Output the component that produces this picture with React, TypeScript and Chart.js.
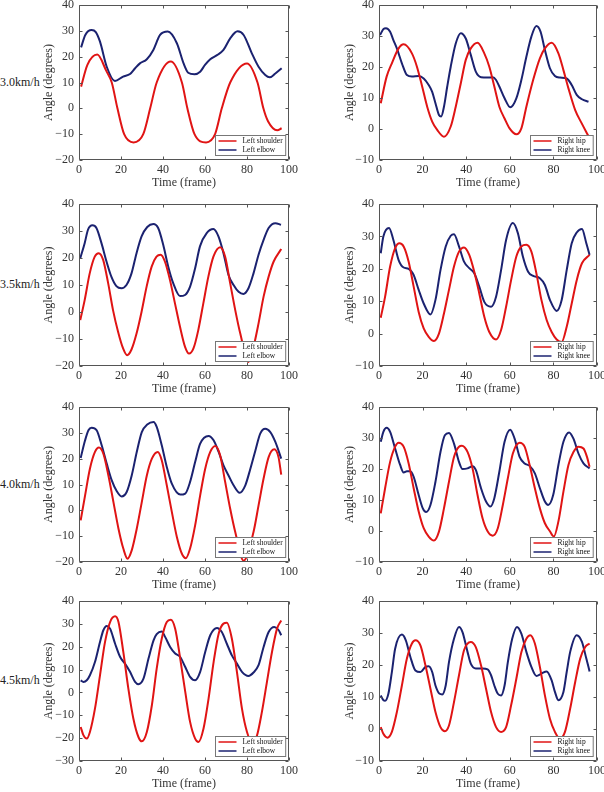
import React, { useEffect, useRef } from "react";
import { Chart, registerables } from "chart.js";

Chart.register(...registerables);

const RED = "#e01414";
const NAVY = "#1b2270";
const FONT = "'Liberation Serif', 'Times New Roman', serif";

// ---------- data (frame, angle in degrees) ----------
// 3.0 km/h, left side
const shoulder30X = [1, 4, 8.7, 13, 15.6, 18.3, 21.5, 26, 30.6, 33.9, 37, 43.7, 49, 51.6, 55, 60.5, 64.8, 68, 72, 80, 85, 87.8, 90, 94.4, 96.5];
const shoulder30Y = [8.4, 16.8, 20.8, 14.5, 10, 0, -10, -13.2, -10, 0, 10, 18.1, 10, 0, -10, -13.2, -10, 0, 10, 17.4, 10, 0, -5, -8.5, -7.7];
const elbow30X = [1, 3, 6, 8, 10, 13.2, 17.1, 21, 24.3, 26.7, 29, 32.3, 35.4, 38.6, 42.3, 46.6, 49.8, 52, 55, 57.7, 60, 62.5, 65.7, 68.8, 72, 75.5, 78.4, 82.3, 85.5, 88.7, 90.8, 93.5, 96.5];
const elbow30Y = [23.6, 28.4, 30.3, 29.5, 25.8, 16.1, 10.6, 12.3, 13.3, 15.5, 17.4, 19, 22.6, 28.4, 29.7, 25.2, 17.4, 13.8, 13.2, 14.2, 16.8, 19, 20.6, 22.6, 27.1, 29.8, 28.4, 21.3, 16.1, 12.9, 12, 13.5, 15.5];
// 3.0 km/h, right side
const hip30X = [0.8, 3.5, 5.9, 9, 11.3, 15.1, 17.4, 19.8, 22.1, 24.4, 26.7, 29.8, 32.9, 35.2, 37.5, 39.8, 42.1, 45.2, 48.3, 50.6, 52.9, 55.2, 57.6, 59.9, 63, 65.3, 67.6, 70.7, 73.8, 76.1, 79.2, 82.3, 84.6, 86.9, 90, 93, 96];
const hip30Y = [8.3, 16.9, 21.2, 26, 27.3, 24.4, 20.1, 13.7, 7.2, 2.4, -0.3, -2.5, 0.8, 7.2, 14.7, 22.3, 26, 27.8, 24.4, 20.1, 13.7, 7.2, 3.4, 0.2, -1.7, 0.2, 7.2, 15.8, 22.8, 26, 27.8, 24.4, 19, 13.1, 6.1, 1.8, -2.2];
const knee30X = [0.5, 2, 3.2, 5.1, 6.6, 8.2, 10.5, 12.8, 15.1, 18.2, 20.5, 22.8, 24.4, 25.9, 27.5, 28.5, 29.8, 31.3, 32.9, 35.2, 37.5, 39.8, 42.1, 44.4, 46.8, 49.8, 52.2, 53.7, 55.2, 57.6, 60.2, 63, 65.3, 67.6, 69.9, 72.2, 74.1, 76.1, 78.4, 80.7, 83, 86.1, 88.4, 90.7, 93.1, 96.1];
const knee30Y = [30.3, 32.2, 32.5, 31.4, 28.7, 26, 21.2, 17.4, 16.9, 17.1, 16.3, 14.2, 12, 8.3, 4.5, 4, 7.2, 13.7, 20.1, 27.6, 30.9, 29.2, 23.9, 18.5, 16.7, 16.6, 16.7, 15.8, 13.7, 9.9, 7, 9.9, 15.8, 23.3, 29.8, 33.2, 31.4, 25.5, 19.6, 17.1, 16.6, 16.3, 14.2, 11, 9.6, 8.8];

// 3.5 km/h, left side
const shoulder35X = [0.6, 2.7, 5.1, 7.5, 9.4, 11.5, 13.9, 16.2, 18.6, 21, 22.9, 25, 27.4, 29.8, 32.2, 34.6, 36.9, 38.9, 40.9, 43.3, 45.7, 48.1, 50.5, 52.4, 54.5, 56.8, 59.2, 61.6, 64, 67.2, 69.6, 72, 74.4, 76.8, 80.7, 83.1, 85.5, 87.9, 90.3, 92.7, 96.3];
const shoulder35Y = [-3, 4.4, 14.3, 20.5, 21.8, 19.3, 10.6, 0.7, -7.3, -13.5, -16, -13.9, -8, 0.1, 9.4, 16.8, 20.5, 21.2, 18.7, 11.9, 3.2, -5.5, -12.9, -15.4, -13.5, -6.7, 3.2, 13.1, 20.5, 24, 20.5, 10.6, 0.7, -8, -18.5, -12.9, -4.2, 5.7, 13.1, 18.7, 23.3];
const elbow35X = [0.6, 2.7, 4.3, 6.4, 8.3, 10.7, 13.1, 15.4, 17.8, 20.2, 22.6, 25, 27.4, 29.8, 32.5, 35.4, 37.7, 40.1, 42.5, 44.9, 48.1, 50.5, 52.9, 55.3, 57.6, 60.8, 64, 66.4, 68.8, 71.2, 73.6, 76, 78.3, 80.7, 83.1, 85.5, 87.9, 90.3, 93.5, 96.2];
const elbow35Y = [19.9, 25.5, 30.5, 32.1, 31.1, 25.5, 18.7, 13.1, 9.6, 8.8, 10, 14.3, 21.8, 28, 31.5, 32.6, 31.1, 24.9, 16.8, 10.6, 5.9, 6.3, 9.4, 16.2, 24.3, 29.2, 30.7, 28, 21.8, 13.7, 10, 7.5, 6.7, 8.8, 14.3, 21.2, 26.7, 31.1, 32.9, 32.3];
// 3.5 km/h, right side
const hip35X = [0.8, 2.8, 5.1, 7.4, 9.4, 11.3, 13.6, 15.9, 18.2, 20.5, 22.8, 25.2, 27.5, 29.8, 32.1, 34.4, 36.7, 39, 41.4, 43.7, 46, 48.3, 50.6, 53.7, 56, 58.3, 60.6, 63, 65.3, 67.6, 69.9, 72.2, 74.5, 76.9, 79.2, 81.5, 83.8, 86.1, 88.4, 90.7, 93.1, 96.6];
const hip35Y = [4.9, 11.4, 20.7, 26.4, 27.9, 26.9, 22.2, 14.5, 6.7, 1.6, -1, -2.3, 0, 6.2, 13.5, 20.7, 25.3, 26.6, 24.3, 19.1, 12.4, 5.2, 0.5, -1.8, 1.1, 8.3, 16.5, 23.8, 26.9, 27.4, 25.3, 18.6, 10.4, 4.2, 0.5, -1.8, -2.6, 2.1, 9.3, 16.5, 21.7, 24.3];
const knee35X = [0.8, 2, 4.6, 6.6, 9, 11.3, 13.6, 15.9, 18.2, 20.5, 23.6, 25.9, 28.2, 30.6, 32.9, 34.4, 36.7, 39, 41.4, 43.7, 46, 48.3, 51.4, 53.7, 56, 58.3, 61.4, 63.7, 66, 68.4, 70.7, 73.8, 76.1, 78.4, 81.5, 83.8, 86.1, 88.4, 90.7, 93.1, 95.1, 96.6];
const knee35Y = [24.8, 30, 32.6, 28.9, 22.7, 20.4, 20, 18.1, 13.5, 9.3, 5.9, 10.4, 19.6, 26.9, 30.2, 30.7, 26.9, 22.2, 20.2, 18.6, 14.5, 9.8, 8.3, 11.4, 19.6, 28.9, 34.1, 31, 23.8, 19.1, 17.8, 17.1, 15, 10.4, 7, 10.4, 19.6, 27.9, 31.2, 32.3, 27.9, 24.3];

// 4.0 km/h, left side
const shoulder40X = [0.8, 2.9, 5.2, 7.6, 9.5, 11.6, 14, 16.4, 18.8, 21.1, 23.1, 25.1, 27.5, 29.9, 32.3, 34.7, 37.5, 39.4, 41.8, 44.2, 46.6, 49, 50.9, 52.9, 55.3, 57.7, 60.1, 62.5, 64.9, 67.2, 69.6, 72, 74.4, 78.4, 83.1, 85.5, 87.9, 90.3, 93, 95, 96.3];
const shoulder40Y = [-3.9, 5.8, 16.1, 22.6, 24.3, 21.9, 13.5, 3.2, -7.1, -14.8, -18.7, -15.5, -7.1, 3.2, 13.5, 20, 22.6, 19.4, 9.7, -0.6, -10.3, -16.8, -18.5, -14.8, -5.8, 5.8, 16.1, 22.6, 24.9, 21.3, 11, 0.6, -8.4, -19.5, -8.4, 1.9, 12.3, 20.6, 23.6, 20.6, 13.8];
const elbow40X = [0.8, 2.9, 4.5, 6, 8.4, 10.8, 13.2, 15.6, 18, 20.3, 22.7, 25.1, 27.5, 29.9, 32.5, 35.5, 37, 39.4, 41.8, 44.2, 48.2, 50.6, 52.9, 55.3, 57.7, 61.7, 64.1, 66.5, 68.8, 71.2, 73.6, 76.5, 79.2, 81.6, 84, 86.3, 88.7, 91.1, 93.5, 96.3];
const elbow40Y = [20.3, 27.1, 31, 32, 31, 25.2, 18.1, 11.6, 7.4, 5.4, 7.1, 13.5, 22.6, 30.3, 33.2, 34.2, 32.3, 25.2, 16.8, 10.3, 6.1, 6.5, 11, 18.7, 25.8, 28.8, 27.1, 22.6, 17.4, 13.5, 9.7, 6.8, 9.7, 16.1, 23.2, 29.7, 31.6, 30.3, 26.5, 20];
// 4.0 km/h, right side
const hip40X = [0.8, 2.8, 5.1, 7.4, 9, 11.3, 13.6, 15.9, 18.2, 20.5, 22.8, 25.2, 27.5, 29.8, 32.1, 34.4, 36.7, 38, 40.6, 42.9, 45.2, 47.5, 49.8, 52.2, 54.5, 56.8, 59.1, 61.4, 64.5, 66.8, 69.1, 71.5, 73.8, 76.1, 78.4, 80.2, 82.3, 84.6, 86.9, 89.2, 91.5, 93.8, 95.4, 96.6];
const hip40Y = [5.7, 13.8, 22.3, 27.2, 28.5, 27.2, 21.8, 13.8, 6.3, 0.9, -1.8, -3.1, -0.2, 7.3, 15.9, 23.9, 27.2, 27.5, 25.5, 20.2, 11.6, 4.1, -0.1, -1.5, 0.9, 8.4, 17, 25, 28.5, 27.2, 21.3, 13.8, 7.3, 2.5, -0.1, -1.8, 3.1, 12.7, 21.3, 25.5, 27.2, 26.6, 23.9, 20.7];
const knee40X = [0.8, 2, 3.5, 5.1, 7.4, 9.7, 11.3, 12.8, 14.4, 15.9, 18.2, 20.1, 21.6, 23.6, 25.9, 28.2, 30.2, 32.1, 34.4, 36.7, 38.3, 40.6, 42.9, 44.4, 46.8, 49.1, 51.1, 52.9, 55.2, 57.6, 60.2, 62.2, 64.5, 66.8, 69.1, 71.5, 73.8, 76.1, 77.6, 79.9, 82.3, 84.6, 87.2, 89.2, 91.5, 93.8, 96.6];
const knee40Y = [28.8, 32, 33.3, 32, 26.6, 21.3, 18.9, 19.3, 19.3, 17.5, 11.6, 7.3, 6.1, 8.4, 15.9, 25.5, 30.9, 31.6, 28.2, 22.3, 20, 20.2, 20.9, 19.7, 13.8, 9.5, 7.9, 10.6, 19.1, 28.8, 32.7, 29.8, 23.9, 21.8, 21, 18.6, 13.8, 9.5, 8.4, 11.6, 21.3, 28.8, 31.8, 29.8, 25, 21.8, 20.2];

// 4.5 km/h, left side
const shoulder45X = [0.8, 2.1, 3.7, 5.2, 7.6, 10, 12.4, 14.8, 17.2, 18.8, 21.1, 23.5, 25.9, 28.3, 29.9, 32.3, 34.7, 37, 39.4, 41.8, 43.7, 45.8, 48.2, 50.6, 52.9, 55.3, 56.9, 59.3, 61.7, 64.1, 66.5, 68.8, 70.4, 72.8, 75.2, 77.6, 80, 82.4, 84.7, 87.1, 89.5, 91.9, 94.3, 96.3];
const shoulder45Y = [-15.1, -18.7, -20.2, -17.3, -7.1, 7.5, 22.1, 30.8, 33.3, 30.8, 17.7, 1.7, -11.5, -19.5, -21.4, -17.3, -5.6, 10.4, 23.5, 30.8, 31.8, 27.9, 14.8, 0.2, -12.9, -20.2, -21.7, -15.8, -2.7, 13.3, 25.7, 30.1, 30.5, 23.5, 9, -7.1, -17.3, -22, -19, -8.5, 4.6, 17.7, 27.9, 31.5];
const elbow45X = [0.8, 2.1, 3.7, 5.2, 7.6, 10, 11.6, 13.2, 14.8, 17.2, 19.6, 21.9, 24.3, 26.7, 28.3, 30.7, 33.1, 35.5, 37, 39.4, 41, 43.4, 45.8, 48.2, 50.6, 52.9, 55.3, 57.7, 60.1, 62.5, 65.7, 68, 70.4, 72.8, 75.2, 77.6, 80.7, 83.1, 85.5, 87.9, 90.3, 93, 95.1, 96.3];
const elbow45Y = [5.3, 4.6, 5.3, 7.5, 13.3, 22.1, 27.2, 29.1, 27.9, 21.3, 15.5, 12.6, 9, 4.6, 3.6, 6, 14.8, 22.8, 25.5, 26.7, 24.3, 19.9, 17, 15.5, 11.1, 6.8, 5.3, 9, 17.7, 25, 28.2, 26.4, 21.3, 16.2, 12.6, 9, 7.2, 8.7, 11.9, 19.9, 26.4, 28.6, 27.2, 25];
// 4.5 km/h, right side
const hip45X = [0.8, 2, 3.9, 5.9, 8.2, 10.5, 12.8, 15.1, 16.7, 19, 21.3, 23.6, 25.9, 28.2, 30.2, 32.1, 34.4, 36.7, 39, 42.1, 44.4, 46.8, 49.1, 51.4, 53.7, 56, 58.3, 60.6, 63, 65.3, 67.6, 69.4, 71.5, 73.8, 76.1, 78.4, 80.7, 83, 85.3, 87.7, 90, 92.3, 94.6, 96.6];
const hip45Y = [0.6, -1.5, -2.7, -0.9, 5.3, 13.6, 22, 26.7, 27.7, 26.1, 19.9, 12.6, 5.3, 0.6, -0.7, 1.1, 8.4, 16.8, 24.6, 27.2, 25.6, 19.9, 12.6, 5.3, 0.6, -0.9, 0.6, 7.4, 15.7, 24, 28.2, 29.3, 26.7, 19.4, 10.5, 3.2, -0.9, -3, -0.9, 6.4, 14.7, 22, 25.6, 26.7];
const knee45X = [0.8, 2, 2.8, 4.3, 5.9, 7.4, 10.5, 12.3, 14.4, 16.7, 19, 21.3, 22.8, 24.4, 25.9, 27.8, 29, 30.6, 32.1, 34.4, 36.7, 38.3, 40.6, 42.1, 44.4, 47.5, 49.8, 51.4, 52.9, 54.5, 56, 57.6, 59.1, 61.1, 63.3, 65.3, 67.6, 69.9, 72.2, 74.5, 76.9, 79.2, 80.7, 82.3, 84.6, 86.1, 87.7, 90.7, 93.1, 95.1, 96.6];
const knee45Y = [10.5, 9, 8.8, 11, 17.8, 25.1, 29.5, 27.7, 22.5, 18.3, 17.8, 19.4, 19.6, 17.8, 13.6, 11, 10.8, 13.6, 20.9, 28.2, 31.9, 30.3, 24.1, 20.4, 18.9, 18.9, 18.6, 16.8, 13.6, 11, 10.5, 13.6, 20.9, 28.2, 31.9, 29.8, 24.1, 19.4, 16.6, 17.3, 18, 15.2, 11.6, 9, 11.6, 17.8, 24.1, 29.3, 27.2, 22, 18];

const speedLabels = ["3.0km/h", "3.5km/h", "4.0km/h", "4.5km/h"];
const leftLabels = ["Left shoulder", "Left elbow"];
const rightLabels = ["Right hip", "Right knee"];
const leftYMin = [-20, -20, -20, -30];
const rightYMin = [-10, -10, -10, -10];
const yMax = 40;
const xTicks = [0, 20, 40, 60, 80, 100];

// ---------- layout ----------
const rowPlot = [
  { top: 5, bottom: 160 },
  { top: 204, bottom: 366 },
  { top: 407, bottom: 562 },
  { top: 601, bottom: 761 },
];
const colPlot = [
  { left: 79, right: 289, canvasLeft: 30, canvasRight: 300, titlePad: 12 },
  { left: 379, right: 597, canvasLeft: 330, canvasRight: 604, titlePad: 13 },
];
const rowLabelY = [82, 284, 484, 680];

const pts = (xs: number[], ys: number[]) => xs.map((x, i) => ({ x, y: ys[i] }));

const leftSeries = [
  [pts(shoulder30X, shoulder30Y), pts(elbow30X, elbow30Y)],
  [pts(shoulder35X, shoulder35Y), pts(elbow35X, elbow35Y)],
  [pts(shoulder40X, shoulder40Y), pts(elbow40X, elbow40Y)],
  [pts(shoulder45X, shoulder45Y), pts(elbow45X, elbow45Y)],
];
const rightSeries = [
  [pts(hip30X, hip30Y), pts(knee30X, knee30Y)],
  [pts(hip35X, hip35Y), pts(knee35X, knee35Y)],
  [pts(hip40X, hip40Y), pts(knee40X, knee40Y)],
  [pts(hip45X, hip45Y), pts(knee45X, knee45Y)],
];

const fmt = (v: number) => (v < 0 ? "\u2212" + Math.abs(v) : String(v));

const frameLegendPlugin = {
  id: "frameLegend",
  afterDatasetsDraw(chart: any) {
    const { ctx, chartArea: a, scales } = chart;
    ctx.save();
    // frame
    ctx.strokeStyle = "#555";
    ctx.lineWidth = 1;
    const L = Math.round(a.left) + 0.5;
    const R = Math.round(a.right) - 0.5;
    const T = Math.round(a.top) + 0.5;
    const B = Math.round(a.bottom) - 0.5;
    ctx.beginPath();
    ctx.rect(L, T, R - L, B - T);
    ctx.stroke();
    // inward ticks
    const tl = 3;
    ctx.beginPath();
    scales.y.ticks.forEach((tk: any) => {
      const p = Math.round(scales.y.getPixelForValue(tk.value)) + 0.5;
      ctx.moveTo(L, p);
      ctx.lineTo(L + tl, p);
      ctx.moveTo(R, p);
      ctx.lineTo(R - tl, p);
    });
    scales.x.ticks.forEach((tk: any) => {
      const p = Math.round(scales.x.getPixelForValue(tk.value)) + 0.5;
      ctx.moveTo(p, B);
      ctx.lineTo(p, B - tl);
      ctx.moveTo(p, T);
      ctx.lineTo(p, T + tl);
    });
    ctx.stroke();

    // legend box (lower right, inside plot)
    const ds = chart.data.datasets;
    ctx.font = "7.5px " + FONT;
    let maxW = 0;
    ds.forEach((d: any) => {
      maxW = Math.max(maxW, ctx.measureText(d.label).width);
    });
    const lineLen = 18;
    const w = 3 + lineLen + 6 + maxW + 3;
    const h = 20;
    const bx = Math.round(a.right - 4 - w) + 0.5;
    const by = Math.round(a.bottom - 5 - h) + 0.5;
    ctx.fillStyle = "#fff";
    ctx.fillRect(bx, by, w, h);
    ctx.strokeStyle = "#777";
    ctx.strokeRect(bx, by, w, h);
    ds.forEach((d: any, i: number) => {
      const yy = by + 5.5 + i * 9;
      ctx.strokeStyle = d.borderColor;
      ctx.lineWidth = 1.5;
      ctx.beginPath();
      ctx.moveTo(bx + 3, yy);
      ctx.lineTo(bx + 3 + lineLen, yy);
      ctx.stroke();
      ctx.fillStyle = "#111";
      ctx.textBaseline = "middle";
      ctx.textAlign = "left";
      ctx.fillText(d.label, bx + 3 + lineLen + 6, yy + 0.5);
    });
    ctx.restore();
  },
};

type PanelProps = {
  row: number;
  col: number;
  series: { x: number; y: number }[][];
  labels: string[];
  yMin: number;
};

function Panel({ row, col, series, labels, yMin }: PanelProps) {
  const ref = useRef<HTMLCanvasElement | null>(null);
  const rp = rowPlot[row];
  const cp = colPlot[col];
  const top = rp.top - 5;
  const height = rp.bottom + 30 - top;
  const width = cp.canvasRight - cp.canvasLeft;
  const rightPad = cp.canvasRight - cp.right;
  const yAxisW = cp.left - cp.canvasLeft;

  useEffect(() => {
    if (!ref.current) return;
    const tickFont = { family: FONT, size: 12 };
    const chart = new Chart(ref.current, {
      type: "line",
      data: {
        datasets: [
          {
            label: labels[0],
            data: series[0],
            borderColor: RED,
            backgroundColor: RED,
            borderWidth: 2,
            pointRadius: 0,
            cubicInterpolationMode: "monotone",
            fill: false,
          },
          {
            label: labels[1],
            data: series[1],
            borderColor: NAVY,
            backgroundColor: NAVY,
            borderWidth: 2,
            pointRadius: 0,
            cubicInterpolationMode: "monotone",
            fill: false,
          },
        ],
      },
      options: {
        animation: false,
        responsive: false,
        devicePixelRatio: 1,
        events: [],
        layout: { padding: { top: 5, right: rightPad, bottom: 0, left: 0 } },
        plugins: {
          legend: { display: false },
          tooltip: { enabled: false },
        },
        scales: {
          x: {
            type: "linear",
            min: 0,
            max: 100,
            afterBuildTicks: (s: any) => {
              s.ticks = xTicks.map((v) => ({ value: v }));
            },
            ticks: {
              color: "#333",
              font: tickFont,
              padding: 3,
              maxRotation: 0,
              autoSkip: false,
              callback: (v: any) => fmt(Number(v)),
            },
            grid: { display: false, drawTicks: false },
            border: { display: false },
            title: {
              display: true,
              text: "Time (frame)",
              color: "#333",
              font: tickFont,
              padding: { top: 0, bottom: 0 },
            },
            afterFit: (s: any) => {
              s.height = 30;
              s.paddingLeft = 0;
              s.paddingRight = 0;
            },
          },
          y: {
            type: "linear",
            min: yMin,
            max: yMax,
            ticks: {
              stepSize: 10,
              color: "#333",
              font: tickFont,
              padding: 5,
              autoSkip: false,
              callback: (v: any) => fmt(Number(v)),
            },
            grid: { display: false, drawTicks: false },
            border: { display: false },
            title: {
              display: true,
              text: "Angle (degrees)",
              color: "#333",
              font: tickFont,
              padding: { top: cp.titlePad, bottom: 0 },
            },
            afterFit: (s: any) => {
              s.width = yAxisW;
              s.paddingTop = 0;
              s.paddingBottom = 0;
            },
          },
        },
      },
      plugins: [frameLegendPlugin],
    } as any);
    return () => chart.destroy();
  }, []);

  return (
    <canvas
      ref={ref}
      width={width}
      height={height}
      style={{
        position: "absolute",
        left: cp.canvasLeft,
        top,
        width,
        height,
      }}
    />
  );
}

export default function App() {
  return (
    <div
      style={{
        position: "fixed",
        left: 0,
        top: 0,
        width: 604,
        height: 792,
        background: "#fff",
        overflow: "hidden",
      }}
    >
      {speedLabels.map((s, r) => (
        <div
          key={"lbl" + r}
          style={{
            position: "absolute",
            left: 0,
            top: rowLabelY[r] - 7,
            height: 14,
            lineHeight: "14px",
            fontFamily: FONT,
            fontSize: 12,
            color: "#222",
            whiteSpace: "nowrap",
          }}
        >
          {s}
        </div>
      ))}
      {speedLabels.map((_, r) => (
        <Panel key={"l" + r} row={r} col={0} series={leftSeries[r]} labels={leftLabels} yMin={leftYMin[r]} />
      ))}
      {speedLabels.map((_, r) => (
        <Panel key={"r" + r} row={r} col={1} series={rightSeries[r]} labels={rightLabels} yMin={rightYMin[r]} />
      ))}
    </div>
  );
}
